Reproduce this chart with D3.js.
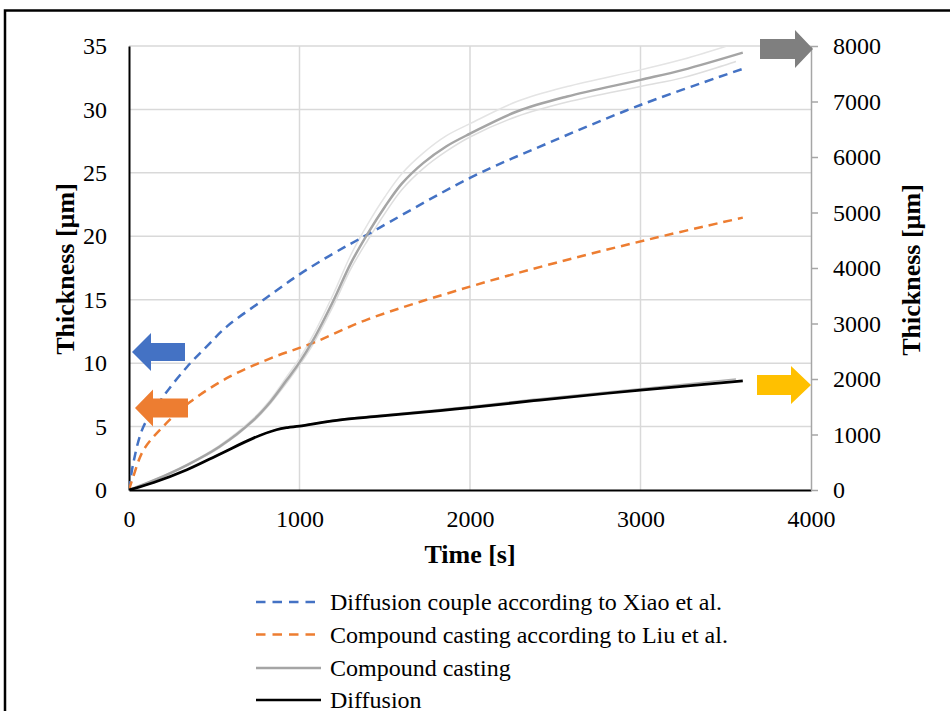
<!DOCTYPE html>
<html>
<head>
<meta charset="utf-8">
<script src="https://cdn.jsdelivr.net/npm/d3@7"></script>
<style>
  html, body { margin: 0; padding: 0; background: #fff; }
  svg { display: block; }
  text { font-family: "Liberation Serif", "Times New Roman", serif; fill: #000; }
</style>
</head>
<body>
<svg id="chart" width="950" height="711"></svg>
<script>
// Diffusion couple according to Xiao et al. (left axis, µm)
const tXiao = [0, 25, 85, 200, 340, 455, 575, 800, 1000, 1200, 1400, 2000, 2450, 3000, 3600];
const vXiao = [0, 2.1, 5.0, 7.35, 9.7, 11.3, 12.9, 15.1, 17.0, 18.65, 20.15, 24.6, 27.3, 30.35, 33.2];

// Compound casting according to Liu et al. (left axis, µm)
const tLiu = [0, 25, 85, 200, 360, 590, 830, 1080, 1400, 2000, 2500, 3050, 3600];
const vLiu = [0, 1.05, 3.15, 5.0, 6.96, 8.93, 10.38, 11.6, 13.45, 16.03, 17.9, 19.76, 21.47];

// Compound casting (right axis, µm) with its upper and lower bounds
const tCast = [0, 150, 340, 530, 730, 830, 925, 1000, 1080, 1200, 1300, 1400, 1500, 1600, 1725, 1860, 2000, 2275, 2570, 3000, 3250, 3600];
const vCast = [0, 180, 450, 780, 1260, 1590, 1980, 2300, 2700, 3420, 4080, 4620, 5100, 5520, 5890, 6190, 6420, 6820, 7090, 7390, 7570, 7880];
const vCastHi = [0, 185, 460, 800, 1290, 1630, 2040, 2370, 2790, 3540, 4230, 4790, 5280, 5700, 6070, 6380, 6600, 7000, 7270, 7570, 7760, 8090];
const tCastLo = [0, 150, 340, 530, 730, 830, 925, 1000, 1080, 1200, 1300, 1400, 1500, 1600, 1725, 1860, 2000, 2275, 2570, 3000, 3250, 3560];
const vCastLo = [0, 175, 440, 760, 1235, 1560, 1930, 2250, 2630, 3330, 3980, 4500, 4980, 5410, 5790, 6100, 6360, 6730, 6990, 7270, 7430, 7720];

// Diffusion (right axis, µm) with its upper bound
const tDiff = [0, 145, 340, 535, 730, 865, 930, 1000, 1220, 1470, 1825, 2000, 2410, 3000, 3600];
const vDiff = [0, 135, 365, 650, 935, 1085, 1125, 1150, 1255, 1330, 1430, 1485, 1620, 1800, 1965];
const tDiffHi = [0, 145, 340, 535, 730, 865, 930, 1000, 1220, 1470, 1825, 2000, 2410, 3000, 3560];
const vDiffHi = [0, 135, 367, 653, 940, 1092, 1133, 1159, 1266, 1345, 1450, 1505, 1645, 1825, 2000];

// Axis ticks
const xTicks = [0, 1000, 2000, 3000, 4000];
const yLeftTicks = [0, 5, 10, 15, 20, 25, 30, 35];
const yRightTicks = [0, 1000, 2000, 3000, 4000, 5000, 6000, 7000, 8000];

// Legend entries
const legendLabels = [
  "Diffusion couple according to Xiao et al.",
  "Compound casting according to Liu et al.",
  "Compound casting",
  "Diffusion"
];

const svg = d3.select("#chart");
const L = 129, R = 811, T = 46, B = 490;
const serif = "'Liberation Serif', 'Times New Roman', serif";

const x = d3.scaleLinear().domain([0, 4000]).range([L, R]);
const yL = d3.scaleLinear().domain([0, 35]).range([B, T]);
const yR = d3.scaleLinear().domain([0, 8000]).range([B, T]);

// outer frame
svg.append("rect")
  .attr("x", 5).attr("y", 10.5)
  .attr("width", 1000).attr("height", 800)
  .attr("fill", "none").attr("stroke", "#000").attr("stroke-width", 2.5);

// gridlines
const grid = svg.append("g").attr("stroke", "#d9d9d9").attr("stroke-width", 1.5);
grid.selectAll("line.h").data(yLeftTicks.filter(d => d > 0)).join("line")
  .attr("x1", L).attr("x2", R)
  .attr("y1", d => yL(d)).attr("y2", d => yL(d));
grid.selectAll("line.v").data(xTicks.filter(d => d > 0 && d < 4000)).join("line")
  .attr("x1", d => x(d)).attr("x2", d => x(d))
  .attr("y1", T).attr("y2", B);

// axes
const fontTick = "24px";

const gx = svg.append("g").attr("transform", `translate(0,${B})`)
  .call(d3.axisBottom(x).tickValues(xTicks).tickSize(0).tickPadding(20).tickFormat(d3.format("d")));
gx.attr("font-family", serif);
gx.select(".domain").attr("stroke", "#000").attr("stroke-width", 2);
gx.selectAll("text").style("font-size", fontTick).style("font-family", serif).attr("fill", "#000");

const gl = svg.append("g").attr("transform", `translate(${L},0)`)
  .call(d3.axisLeft(yL).tickValues(yLeftTicks).tickSize(0).tickPadding(22).tickFormat(d3.format("d")));
gl.attr("font-family", serif);
gl.select(".domain").attr("stroke", "#000").attr("stroke-width", 2);
gl.selectAll("text").style("font-size", fontTick).style("font-family", serif).attr("fill", "#000");

const gr = svg.append("g").attr("transform", `translate(${R},0)`)
  .call(d3.axisRight(yR).tickValues(yRightTicks).tickSizeInner(7).tickSizeOuter(0).tickPadding(15).tickFormat(d3.format("d")));
gr.attr("font-family", serif);
gr.select(".domain").attr("stroke", "#a6a6a6").attr("stroke-width", 1.5);
gr.selectAll(".tick line").attr("stroke", "#a6a6a6").attr("stroke-width", 1.5);
gr.selectAll("text").style("font-size", fontTick).style("font-family", serif).attr("fill", "#000");

// axis titles
svg.append("text")
  .attr("transform", "translate(74,269) rotate(-90)")
  .attr("text-anchor", "middle")
  .style("font-size", "26px").style("font-weight", "bold")
  .text("Thickness [µm]");
svg.append("text")
  .attr("transform", "translate(920,270) rotate(-90)")
  .attr("text-anchor", "middle")
  .style("font-size", "26px").style("font-weight", "bold")
  .text("Thickness [µm]");
svg.append("text")
  .attr("x", 470).attr("y", 563)
  .attr("text-anchor", "middle")
  .style("font-size", "26px").style("font-weight", "bold")
  .text("Time [s]");

// series
svg.append("clipPath").attr("id", "plotClip")
  .append("rect").attr("x", L).attr("y", T).attr("width", R - L).attr("height", B - T);
const plot = svg.append("g").attr("clip-path", "url(#plotClip)");

function pathOf(ts, vs, ys) {
  return d3.line().curve(d3.curveCatmullRom.alpha(0.5))
    .x((d, i) => x(ts[i])).y(d => ys(d))(vs);
}

// faint bounds
plot.append("path").attr("d", pathOf(tCast, vCastHi, yR))
  .attr("fill", "none").attr("stroke", "#e4e4e4").attr("stroke-width", 1.5);
plot.append("path").attr("d", pathOf(tCastLo, vCastLo, yR))
  .attr("fill", "none").attr("stroke", "#dedede").attr("stroke-width", 1.5);
plot.append("path").attr("d", pathOf(tDiffHi, vDiffHi, yR))
  .attr("fill", "none").attr("stroke", "#b0b0b0").attr("stroke-width", 1.5);

plot.append("path").attr("d", pathOf(tXiao, vXiao, yL))
  .attr("fill", "none").attr("stroke", "#4472c4").attr("stroke-width", 2.5)
  .attr("stroke-dasharray", "9,6");
plot.append("path").attr("d", pathOf(tLiu, vLiu, yL))
  .attr("fill", "none").attr("stroke", "#ed7d31").attr("stroke-width", 2.5)
  .attr("stroke-dasharray", "9,6");
plot.append("path").attr("d", pathOf(tCast, vCast, yR))
  .attr("fill", "none").attr("stroke", "#a5a5a5").attr("stroke-width", 2.5);
plot.append("path").attr("d", pathOf(tDiff, vDiff, yR))
  .attr("fill", "none").attr("stroke", "#000").attr("stroke-width", 2.75);

// arrows showing which axis each series belongs to
function arrow(tipX, cy, dir, shaftLen, headLen, shaftHalf, headHalf, color) {
  const s = dir; // -1: pointing left, 1: pointing right
  const base = tipX - s * headLen;
  const tail = base - s * shaftLen;
  const pts = [
    [tipX, cy],
    [base, cy - headHalf],
    [base, cy - shaftHalf],
    [tail, cy - shaftHalf],
    [tail, cy + shaftHalf],
    [base, cy + shaftHalf],
    [base, cy + headHalf]
  ];
  svg.append("polygon").attr("points", pts.map(p => p.join(",")).join(" ")).attr("fill", color);
}
arrow(132, 352, -1, 34, 19, 9, 19, "#4472c4");
arrow(135, 408, -1, 35, 18, 9.5, 18.5, "#ed7d31");
arrow(813, 49, 1, 35, 18, 10, 19, "#7f7f7f");
arrow(811, 385, 1, 34, 20, 10, 19, "#ffc000");

// legend
const legend = svg.append("g");
const rowsY = [602, 634.5, 668, 700];
const legendStyles = [
  { color: "#4472c4", dash: "9,6" },
  { color: "#ed7d31", dash: "9,6" },
  { color: "#a5a5a5", dash: null },
  { color: "#000", dash: null }
];
legendLabels.forEach((label, i) => {
  const ln = legend.append("line")
    .attr("x1", 256).attr("x2", 321)
    .attr("y1", rowsY[i]).attr("y2", rowsY[i])
    .attr("stroke", legendStyles[i].color).attr("stroke-width", 2.5);
  if (legendStyles[i].dash) ln.attr("stroke-dasharray", "9.5,7");
  legend.append("text")
    .attr("x", 330).attr("y", rowsY[i] + 8)
    .style("font-size", "24px").style("font-family", serif)
    .text(label);
});
</script>
</body>
</html>
